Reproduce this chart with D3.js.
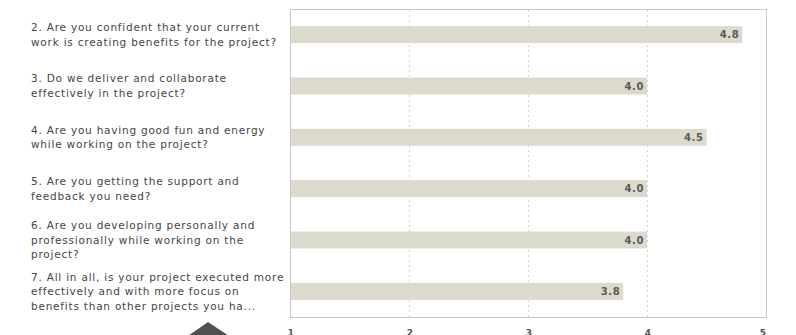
<!DOCTYPE html>
<html>
<head>
<meta charset="utf-8">
<script src="https://cdn.jsdelivr.net/npm/d3@7"></script>
<style>
  body { margin: 0; background: #fff; }
  svg { display: block; }
</style>
</head>
<body>
<div id="chart"></div>
<script>
// questions (already wrapped the way the picture shows them)
var questions = [
  ["2. Are you confident that your current", "work is creating benefits for the project?"],
  ["3. Do we deliver and collaborate", "effectively in the project?"],
  ["4. Are you having good fun and energy", "while working on the project?"],
  ["5. Are you getting the support and", "feedback you need?"],
  ["6. Are you developing personally and", "professionally while working on the", "project?"],
  ["7. All in all, is your project executed more", "effectively and with more focus on", "benefits than other projects you ha..."]
];
var scores = [4.8, 4.0, 4.5, 4.0, 4.0, 3.8];
var ticks = [1, 2, 3, 4, 5];

var width = 796, height = 335;
var plot = { left: 290, right: 766, top: 9, bottom: 317 };
var font = "DejaVu Sans, Verdana, sans-serif";

var svg = d3.select("#chart").append("svg")
  .attr("width", width)
  .attr("height", height);

var x = d3.scaleLinear().domain([1, 5]).range([plot.left, plot.right]);
var y = d3.scaleBand()
  .domain(d3.range(questions.length))
  .range([plot.top, plot.bottom])
  .paddingInner(0.67)
  .paddingOuter(0.335);

// frame
svg.append("rect")
  .attr("x", plot.left + 0.5).attr("y", plot.top + 0.5)
  .attr("width", plot.right - plot.left).attr("height", plot.bottom - plot.top)
  .attr("fill", "#fff").attr("stroke", "#c8c8c8");

// dotted grid
svg.selectAll(".grid")
  .data(ticks.slice(1, -1))
  .enter().append("line")
  .attr("x1", d => Math.round(x(d)) + 0.5).attr("x2", d => Math.round(x(d)) + 0.5)
  .attr("y1", plot.top + 1).attr("y2", plot.bottom)
  .attr("stroke", "#d4d4d4")
  .attr("stroke-dasharray", "2,3");

// bars
svg.selectAll(".bar")
  .data(scores)
  .enter().append("rect")
  .attr("x", x(1) + 1)
  .attr("y", (d, i) => y(i))
  .attr("width", d => x(d) - x(1) - 1)
  .attr("height", y.bandwidth())
  .attr("fill", "#dcd9cd");

// value labels
svg.selectAll(".val")
  .data(scores)
  .enter().append("text")
  .attr("x", d => x(d) - 3)
  .attr("y", (d, i) => y(i) + y.bandwidth() / 2)
  .attr("dy", "0.35em")
  .attr("text-anchor", "end")
  .attr("font-family", font)
  .attr("font-size", 10)
  .attr("font-weight", "bold")
  .attr("letter-spacing", 0.6)
  .attr("fill", "#5a5a5a")
  .text(d => d.toFixed(1));

// question labels
var lineH = 14.5;
var lbl = svg.selectAll(".q")
  .data(questions)
  .enter().append("text")
  .attr("font-family", font)
  .attr("font-size", 10.5)
  .attr("letter-spacing", 0.78)
  .attr("fill", "#454545")
  .attr("transform", (d, i) => "translate(31," + (y(i) + y.bandwidth() / 2) + ")");

lbl.selectAll("tspan")
  .data(d => d.map((t, k) => ({ t: t, k: k, n: d.length })))
  .enter().append("tspan")
  .attr("x", 0)
  .attr("y", d => (d.k - (d.n - 1) / 2) * lineH)
  .attr("dy", "0.35em")
  .text(d => d.t);

// bottom axis labels (cut by the window edge, as in the picture)
svg.selectAll(".tick")
  .data(ticks)
  .enter().append("text")
  .attr("x", d => x(d) + (d === 5 ? -3 : 1))
  .attr("y", 336)
  .attr("text-anchor", "middle")
  .attr("font-family", font)
  .attr("font-size", 9)
  .attr("font-weight", "bold")
  .attr("fill", "#555")
  .text(d => d);

// cursor arrow head near the bottom
svg.append("path")
  .attr("d", "M208,322 L229,336 L188,336 Z")
  .attr("fill", "#505050");
</script>
</body>
</html>
